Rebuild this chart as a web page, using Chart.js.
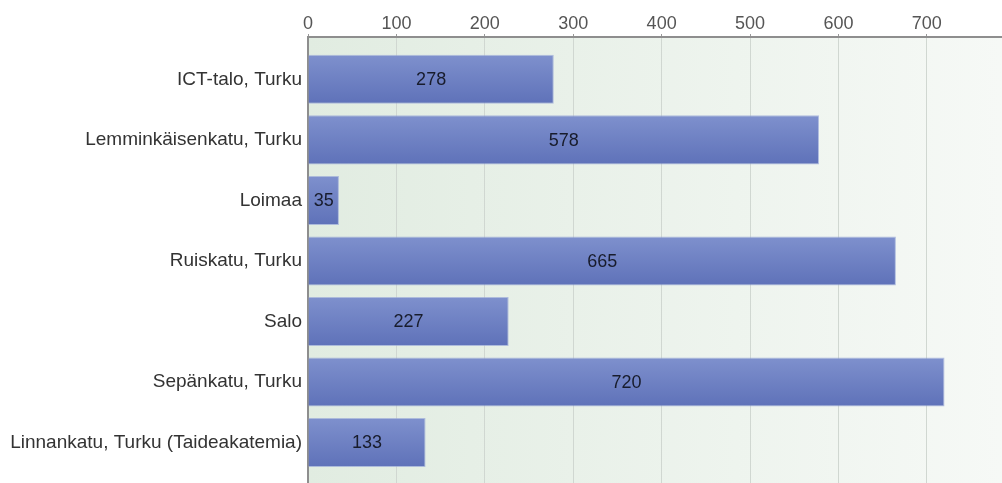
<!DOCTYPE html>
<html>
<head>
<meta charset="utf-8">
<script src="https://cdn.jsdelivr.net/npm/chart.js@4/dist/chart.umd.min.js"></script>
<style>
  html, body { margin: 0; padding: 0; background: #ffffff; }
  #wrap { width: 1002px; height: 483px; }
</style>
</head>
<body>
<div id="wrap"><canvas id="c" width="1002" height="483"></canvas></div>
<script>
const categories = [
  "ICT-talo, Turku",
  "Lemminkäisenkatu, Turku",
  "Loimaa",
  "Ruiskatu, Turku",
  "Salo",
  "Sepänkatu, Turku",
  "Linnankatu, Turku (Taideakatemia)"
];
const values = [278, 578, 35, 665, 227, 720, 133];
const xTicks = [0, 100, 200, 300, 400, 500, 600, 700];

const FONT = '"Liberation Sans", Arial, sans-serif';

const bgPlugin = {
  id: 'bgPlugin',
  beforeDraw(chart) {
    const { ctx, chartArea: a } = chart;
    const g = ctx.createLinearGradient(a.left, 0, a.right, 0);
    g.addColorStop(0, '#e1ece1');
    g.addColorStop(1, '#f6f9f6');
    ctx.save();
    ctx.fillStyle = g;
    ctx.fillRect(a.left, a.top, a.right - a.left, a.bottom - a.top);
    ctx.restore();
  }
};

const labelPlugin = {
  id: 'labelPlugin',
  afterDatasetsDraw(chart) {
    const { ctx } = chart;
    const meta = chart.getDatasetMeta(0);
    ctx.save();
    ctx.font = '18px ' + FONT;
    ctx.fillStyle = '#181c2c';
    ctx.textAlign = 'center';
    ctx.textBaseline = 'middle';
    meta.data.forEach((bar, i) => {
      ctx.fillText(String(values[i]), (bar.x + bar.base) / 2, bar.y + 1);
    });
    ctx.restore();
  }
};

new Chart(document.getElementById('c'), {
  type: 'bar',
  data: {
    datasets: [{
      data: values.map((v, i) => ({ x: v, y: i })),
      backgroundColor(ctx) {
        const chart = ctx.chart;
        const ys = chart.scales && chart.scales.y;
        if (!ys || ctx.type !== 'data' || !chart.chartArea) return '#6d80c2';
        const c = ys.getPixelForValue(ctx.dataIndex);
        const g = chart.ctx.createLinearGradient(0, c - 24, 0, c + 24);
        g.addColorStop(0, '#7e90cd');
        g.addColorStop(1, '#5f72b9');
        return g;
      },
      borderColor: 'rgba(150,165,215,0.7)',
      borderWidth: 1,
      borderSkipped: 'start',
      barPercentage: 0.81,
      categoryPercentage: 1.0
    }]
  },
  options: {
    indexAxis: 'y',
    responsive: false,
    animation: false,
    devicePixelRatio: 1,
    layout: { padding: { left: 0, right: 0, top: 0, bottom: 0 } },
    plugins: {
      legend: { display: false },
      tooltip: { enabled: false }
    },
    scales: {
      x: {
        type: 'linear',
        position: 'top',
        min: 0,
        max: 785,
        afterFit(scale) {
          scale.height = 37;
          scale.paddingLeft = 0; scale.paddingRight = 0;
        },
        afterBuildTicks(scale) { scale.ticks = xTicks.map(v => ({ value: v })); },
        ticks: {
          color: '#555555',
          font: { family: FONT, size: 18 },
          padding: -1
        },
        grid: {
          color: '#d0d7d1',
          lineWidth: 1,
          tickColor: '#999999',
          tickLength: 3
        },
        border: { color: '#8e8e8e', width: 2 }
      },
      y: {
        type: 'linear',
        reverse: true,
        offset: false,
        min: -0.70,
        max: 6.67,
        afterFit(scale) {
          scale.width = 308;
          scale.paddingTop = 0; scale.paddingBottom = 0;
        },
        afterBuildTicks(scale) { scale.ticks = categories.map((c, i) => ({ value: i })); },
        ticks: {
          color: '#333333',
          font: { family: FONT, size: 19 },
          padding: 6,
          callback(v) { return categories[v]; }
        },
        grid: { display: false, drawTicks: false },
        border: { color: '#8e8e8e', width: 2 }
      }
    }
  },
  plugins: [bgPlugin, labelPlugin]
});
</script>
</body>
</html>
